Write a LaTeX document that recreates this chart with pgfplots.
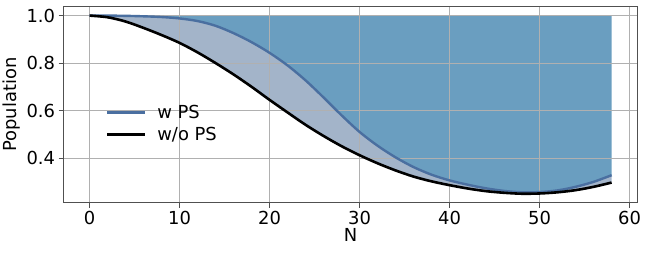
\documentclass[border=0pt]{standalone}
\usepackage{pgfplots}
\pgfplotsset{compat=1.18}
\usepackage{fontspec}
\setmainfont{DejaVu Sans}
\definecolor{darkfill}{RGB}{106,158,192}
\definecolor{lightfill}{RGB}{163,180,201}
\definecolor{wline}{RGB}{74,111,160}
\definecolor{gridc}{RGB}{176,176,176}
\definecolor{spine}{RGB}{80,80,80}
\pgfplotstableread{
N y
0 1.000
2 0.993
4 0.975
6 0.948
8 0.918
10 0.885
12 0.845
14 0.800
16 0.752
18 0.700
20 0.645
22 0.592
24 0.540
26 0.493
28 0.450
30 0.412
32 0.378
34 0.348
36 0.322
38 0.302
40 0.286
42 0.272
44 0.261
46 0.254
48 0.250
50 0.251
52 0.256
54 0.265
56 0.279
58 0.297
}\woPS
\pgfplotstableread{
N y
0 1.000
2 1.000
4 0.999
6 0.997
8 0.994
10 0.988
12 0.977
14 0.957
16 0.926
18 0.888
20 0.843
22 0.790
24 0.727
26 0.655
28 0.580
30 0.510
32 0.452
34 0.403
36 0.362
38 0.330
40 0.306
42 0.288
44 0.273
46 0.262
48 0.256
50 0.257
52 0.264
54 0.279
56 0.300
58 0.328
}\wPS
\pgfplotstableread{
N y
0 1.000
2 1.000
4 0.999
6 0.997
8 0.994
10 0.988
12 0.977
14 0.957
16 0.926
18 0.888
20 0.843
22 0.790
24 0.727
26 0.655
28 0.580
30 0.510
32 0.452
34 0.403
36 0.362
38 0.330
40 0.306
42 0.288
44 0.273
46 0.262
48 0.256
50 0.257
52 0.264
54 0.279
56 0.300
58 0.328
58 1.000
0 1.000
}\darkpoly
\pgfplotstableread{
N y
0 1.000
2 1.000
4 0.999
6 0.997
8 0.994
10 0.988
12 0.977
14 0.957
16 0.926
18 0.888
20 0.843
22 0.790
24 0.727
26 0.655
28 0.580
30 0.510
32 0.452
34 0.403
36 0.362
38 0.330
40 0.306
42 0.288
44 0.273
46 0.262
48 0.256
50 0.257
52 0.264
54 0.279
56 0.300
58 0.328
58 0.297
56 0.279
54 0.265
52 0.256
50 0.251
48 0.250
46 0.254
44 0.261
42 0.272
40 0.286
38 0.302
36 0.322
34 0.348
32 0.378
30 0.412
28 0.450
26 0.493
24 0.540
22 0.592
20 0.645
18 0.700
16 0.752
14 0.800
12 0.845
10 0.885
8 0.918
6 0.948
4 0.975
2 0.993
0 1.000
}\lightpoly
\begin{document}
\begin{tikzpicture}
\begin{axis}[
  at={(63.3bp,52.3bp)}, anchor=south west,
  scale only axis, width=574.4bp, height=196bp,
  xmin=-2.9, xmax=60.9, ymin=0.2125, ymax=1.0375,
  xtick={0,10,20,30,40,50,60},
  ytick={0.4,0.6,0.8,1.0},
  yticklabel style={/pgf/number format/.cd,fixed,fixed zerofill,precision=1},
  /pgf/number format/assume math mode=true,
  tick label style={font=\fontsize{18}{21}\selectfont},
  label style={font=\fontsize{18}{21}\selectfont},
  xlabel={N}, ylabel={Population},
  xlabel style={yshift=3bp},
  ylabel style={yshift=-1bp},
  grid=major,
  grid style={gridc, line width=0.8bp},
  axis line style={spine, line width=1bp},
  tick style={spine, line width=0.9bp},
  tick align=outside, major tick length=5bp,
  xtick pos=bottom, ytick pos=left,
  set layers,
  legend style={draw=none, fill=none, at={(0.068,0.404)}, anchor=west,
    font=\fontsize{18}{21}\selectfont, row sep=3bp,
    /tikz/every odd column/.append style={column sep=9bp}},
  legend cell align=left,
  legend image code/.code={\draw[#1] (0bp,0bp) -- (38bp,0bp);},
]
\addplot[fill=darkfill, draw=none, on layer=axis background, forget plot] table {\darkpoly} -- cycle;
\addplot[fill=lightfill, draw=none, on layer=axis background, forget plot] table {\lightpoly} -- cycle;
\addplot[wline, line width=2.4bp, smooth] table {\wPS};
\addlegendentry{w PS}
\addplot[black, line width=2.6bp, smooth] table {\woPS};
\addlegendentry{w/o PS}
\end{axis}
\path (0,0) rectangle (648bp,255bp);
\end{tikzpicture}
\end{document}
